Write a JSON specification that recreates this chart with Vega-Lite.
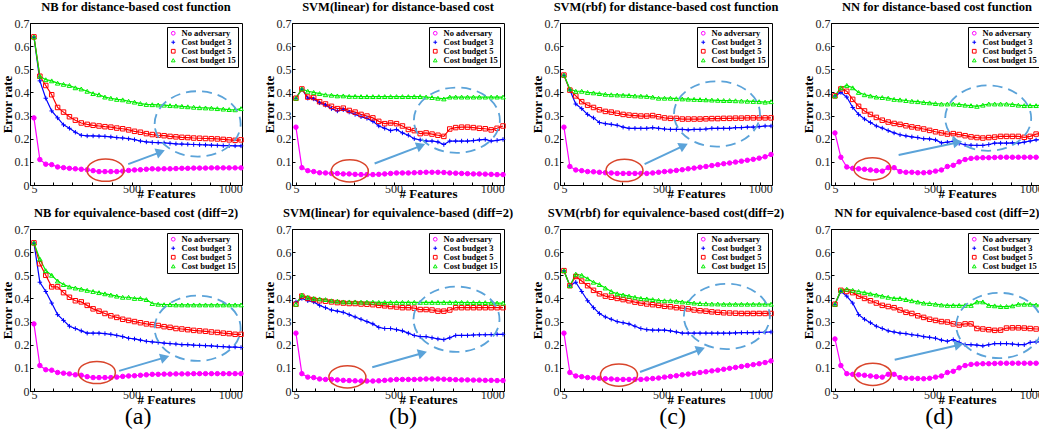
{
"$schema": "https://vega.github.io/schema/vega-lite/v6.json",
"padding": {"left": 0, "top": 0, "right": 0, "bottom": 0},
"datasets": {
"m": [
{"p":"a1","x":5,"a":0.29,"b":0.64,"c":0.64,"d":0.64},
{"p":"a1","x":35,"a":0.11,"b":0.45,"c":0.47,"d":0.47},
{"p":"a1","x":65,"a":0.09,"b":0.375,"c":0.43,"d":0.455},
{"p":"a1","x":95,"a":0.088,"b":0.32,"c":0.39,"d":0.45},
{"p":"a1","x":125,"a":0.078,"b":0.29,"c":0.335,"d":0.44},
{"p":"a1","x":155,"a":0.075,"b":0.26,"c":0.315,"d":0.435},
{"p":"a1","x":185,"a":0.072,"b":0.245,"c":0.295,"d":0.43},
{"p":"a1","x":215,"a":0.07,"b":0.228,"c":0.28,"d":0.42},
{"p":"a1","x":245,"a":0.068,"b":0.215,"c":0.268,"d":0.415},
{"p":"a1","x":275,"a":0.066,"b":0.212,"c":0.262,"d":0.405},
{"p":"a1","x":305,"a":0.062,"b":0.212,"c":0.258,"d":0.395},
{"p":"a1","x":335,"a":0.058,"b":0.211,"c":0.255,"d":0.39},
{"p":"a1","x":365,"a":0.058,"b":0.21,"c":0.252,"d":0.38},
{"p":"a1","x":395,"a":0.058,"b":0.208,"c":0.25,"d":0.375},
{"p":"a1","x":425,"a":0.058,"b":0.205,"c":0.246,"d":0.37},
{"p":"a1","x":455,"a":0.06,"b":0.203,"c":0.243,"d":0.368},
{"p":"a1","x":485,"a":0.063,"b":0.2,"c":0.238,"d":0.362},
{"p":"a1","x":515,"a":0.065,"b":0.196,"c":0.232,"d":0.358},
{"p":"a1","x":545,"a":0.066,"b":0.19,"c":0.228,"d":0.352},
{"p":"a1","x":575,"a":0.068,"b":0.186,"c":0.222,"d":0.348},
{"p":"a1","x":605,"a":0.07,"b":0.184,"c":0.218,"d":0.347},
{"p":"a1","x":635,"a":0.069,"b":0.183,"c":0.215,"d":0.346},
{"p":"a1","x":665,"a":0.07,"b":0.182,"c":0.213,"d":0.345},
{"p":"a1","x":695,"a":0.07,"b":0.18,"c":0.21,"d":0.343},
{"p":"a1","x":725,"a":0.071,"b":0.178,"c":0.208,"d":0.342},
{"p":"a1","x":755,"a":0.072,"b":0.177,"c":0.206,"d":0.34},
{"p":"a1","x":785,"a":0.072,"b":0.176,"c":0.205,"d":0.338},
{"p":"a1","x":815,"a":0.073,"b":0.175,"c":0.203,"d":0.336},
{"p":"a1","x":845,"a":0.073,"b":0.174,"c":0.202,"d":0.334},
{"p":"a1","x":875,"a":0.073,"b":0.173,"c":0.201,"d":0.333},
{"p":"a1","x":905,"a":0.074,"b":0.172,"c":0.2,"d":0.332},
{"p":"a1","x":935,"a":0.074,"b":0.171,"c":0.199,"d":0.33},
{"p":"a1","x":965,"a":0.074,"b":0.17,"c":0.197,"d":0.328},
{"p":"a1","x":995,"a":0.074,"b":0.17,"c":0.195,"d":0.326},
{"p":"a1","x":1025,"a":0.074,"b":0.169,"c":0.193,"d":0.325},
{"p":"a1","x":1055,"a":0.074,"b":0.169,"c":0.195,"d":0.33},
{"p":"a2","x":5,"a":0.29,"b":0.64,"c":0.64,"d":0.64},
{"p":"a2","x":35,"a":0.11,"b":0.47,"c":0.55,"d":0.57},
{"p":"a2","x":65,"a":0.092,"b":0.43,"c":0.5,"d":0.52},
{"p":"a2","x":95,"a":0.09,"b":0.38,"c":0.45,"d":0.5},
{"p":"a2","x":125,"a":0.08,"b":0.33,"c":0.45,"d":0.475},
{"p":"a2","x":155,"a":0.077,"b":0.305,"c":0.425,"d":0.46},
{"p":"a2","x":185,"a":0.074,"b":0.28,"c":0.405,"d":0.45},
{"p":"a2","x":215,"a":0.07,"b":0.27,"c":0.39,"d":0.445},
{"p":"a2","x":245,"a":0.068,"b":0.26,"c":0.385,"d":0.44},
{"p":"a2","x":275,"a":0.062,"b":0.25,"c":0.37,"d":0.435},
{"p":"a2","x":305,"a":0.058,"b":0.25,"c":0.355,"d":0.43},
{"p":"a2","x":335,"a":0.058,"b":0.25,"c":0.345,"d":0.425},
{"p":"a2","x":365,"a":0.058,"b":0.248,"c":0.335,"d":0.42},
{"p":"a2","x":395,"a":0.058,"b":0.245,"c":0.325,"d":0.415},
{"p":"a2","x":425,"a":0.06,"b":0.24,"c":0.318,"d":0.41},
{"p":"a2","x":455,"a":0.063,"b":0.235,"c":0.31,"d":0.405},
{"p":"a2","x":485,"a":0.065,"b":0.228,"c":0.305,"d":0.405},
{"p":"a2","x":515,"a":0.066,"b":0.225,"c":0.3,"d":0.4},
{"p":"a2","x":545,"a":0.068,"b":0.22,"c":0.295,"d":0.4},
{"p":"a2","x":575,"a":0.07,"b":0.215,"c":0.29,"d":0.395},
{"p":"a2","x":605,"a":0.072,"b":0.212,"c":0.287,"d":0.378},
{"p":"a2","x":635,"a":0.072,"b":0.21,"c":0.283,"d":0.375},
{"p":"a2","x":665,"a":0.073,"b":0.207,"c":0.278,"d":0.373},
{"p":"a2","x":695,"a":0.073,"b":0.205,"c":0.275,"d":0.373},
{"p":"a2","x":725,"a":0.074,"b":0.203,"c":0.27,"d":0.372},
{"p":"a2","x":755,"a":0.074,"b":0.2,"c":0.268,"d":0.372},
{"p":"a2","x":785,"a":0.074,"b":0.2,"c":0.265,"d":0.372},
{"p":"a2","x":815,"a":0.075,"b":0.198,"c":0.262,"d":0.372},
{"p":"a2","x":845,"a":0.075,"b":0.197,"c":0.26,"d":0.372},
{"p":"a2","x":875,"a":0.075,"b":0.196,"c":0.258,"d":0.372},
{"p":"a2","x":905,"a":0.075,"b":0.195,"c":0.255,"d":0.372},
{"p":"a2","x":935,"a":0.075,"b":0.193,"c":0.253,"d":0.372},
{"p":"a2","x":965,"a":0.075,"b":0.192,"c":0.25,"d":0.372},
{"p":"a2","x":995,"a":0.075,"b":0.19,"c":0.248,"d":0.372},
{"p":"a2","x":1025,"a":0.075,"b":0.19,"c":0.245,"d":0.372},
{"p":"a2","x":1055,"a":0.075,"b":0.188,"c":0.245,"d":0.372},
{"p":"b1","x":5,"a":0.25,"b":0.375,"c":0.375,"d":0.375},
{"p":"b1","x":35,"a":0.075,"b":0.415,"c":0.415,"d":0.415},
{"p":"b1","x":65,"a":0.062,"b":0.375,"c":0.38,"d":0.405},
{"p":"b1","x":95,"a":0.058,"b":0.372,"c":0.378,"d":0.4},
{"p":"b1","x":125,"a":0.053,"b":0.355,"c":0.36,"d":0.395},
{"p":"b1","x":155,"a":0.052,"b":0.345,"c":0.35,"d":0.39},
{"p":"b1","x":185,"a":0.05,"b":0.33,"c":0.34,"d":0.388},
{"p":"b1","x":215,"a":0.05,"b":0.32,"c":0.33,"d":0.385},
{"p":"b1","x":245,"a":0.048,"b":0.325,"c":0.332,"d":0.385},
{"p":"b1","x":275,"a":0.048,"b":0.315,"c":0.322,"d":0.383},
{"p":"b1","x":305,"a":0.046,"b":0.305,"c":0.315,"d":0.383},
{"p":"b1","x":335,"a":0.045,"b":0.295,"c":0.305,"d":0.382},
{"p":"b1","x":365,"a":0.045,"b":0.288,"c":0.298,"d":0.382},
{"p":"b1","x":395,"a":0.045,"b":0.275,"c":0.29,"d":0.382},
{"p":"b1","x":425,"a":0.046,"b":0.255,"c":0.275,"d":0.382},
{"p":"b1","x":455,"a":0.048,"b":0.245,"c":0.265,"d":0.382},
{"p":"b1","x":485,"a":0.05,"b":0.235,"c":0.268,"d":0.382},
{"p":"b1","x":515,"a":0.052,"b":0.24,"c":0.265,"d":0.382},
{"p":"b1","x":545,"a":0.052,"b":0.225,"c":0.255,"d":0.382},
{"p":"b1","x":575,"a":0.052,"b":0.215,"c":0.24,"d":0.382},
{"p":"b1","x":605,"a":0.053,"b":0.2,"c":0.235,"d":0.382},
{"p":"b1","x":635,"a":0.054,"b":0.195,"c":0.222,"d":0.382},
{"p":"b1","x":665,"a":0.055,"b":0.19,"c":0.225,"d":0.38},
{"p":"b1","x":695,"a":0.055,"b":0.19,"c":0.22,"d":0.378},
{"p":"b1","x":725,"a":0.055,"b":0.186,"c":0.215,"d":0.375},
{"p":"b1","x":755,"a":0.054,"b":0.175,"c":0.21,"d":0.372},
{"p":"b1","x":785,"a":0.052,"b":0.19,"c":0.242,"d":0.38},
{"p":"b1","x":815,"a":0.051,"b":0.19,"c":0.248,"d":0.38},
{"p":"b1","x":845,"a":0.05,"b":0.19,"c":0.25,"d":0.38},
{"p":"b1","x":875,"a":0.049,"b":0.19,"c":0.25,"d":0.38},
{"p":"b1","x":905,"a":0.048,"b":0.192,"c":0.248,"d":0.38},
{"p":"b1","x":935,"a":0.048,"b":0.195,"c":0.245,"d":0.38},
{"p":"b1","x":965,"a":0.047,"b":0.197,"c":0.243,"d":0.38},
{"p":"b1","x":995,"a":0.046,"b":0.19,"c":0.238,"d":0.38},
{"p":"b1","x":1025,"a":0.045,"b":0.193,"c":0.245,"d":0.38},
{"p":"b1","x":1055,"a":0.045,"b":0.197,"c":0.255,"d":0.38},
{"p":"b2","x":5,"a":0.25,"b":0.385,"c":0.375,"d":0.375},
{"p":"b2","x":35,"a":0.075,"b":0.4,"c":0.41,"d":0.415},
{"p":"b2","x":65,"a":0.06,"b":0.39,"c":0.4,"d":0.405},
{"p":"b2","x":95,"a":0.058,"b":0.385,"c":0.395,"d":0.4},
{"p":"b2","x":125,"a":0.052,"b":0.37,"c":0.39,"d":0.398},
{"p":"b2","x":155,"a":0.05,"b":0.36,"c":0.388,"d":0.395},
{"p":"b2","x":185,"a":0.05,"b":0.35,"c":0.385,"d":0.39},
{"p":"b2","x":215,"a":0.048,"b":0.345,"c":0.382,"d":0.388},
{"p":"b2","x":245,"a":0.046,"b":0.34,"c":0.38,"d":0.385},
{"p":"b2","x":275,"a":0.045,"b":0.33,"c":0.378,"d":0.385},
{"p":"b2","x":305,"a":0.044,"b":0.32,"c":0.378,"d":0.385},
{"p":"b2","x":335,"a":0.043,"b":0.31,"c":0.376,"d":0.384},
{"p":"b2","x":365,"a":0.043,"b":0.3,"c":0.375,"d":0.384},
{"p":"b2","x":395,"a":0.043,"b":0.29,"c":0.373,"d":0.384},
{"p":"b2","x":425,"a":0.044,"b":0.275,"c":0.37,"d":0.383},
{"p":"b2","x":455,"a":0.046,"b":0.27,"c":0.368,"d":0.383},
{"p":"b2","x":485,"a":0.048,"b":0.27,"c":0.365,"d":0.383},
{"p":"b2","x":515,"a":0.05,"b":0.265,"c":0.363,"d":0.383},
{"p":"b2","x":545,"a":0.05,"b":0.26,"c":0.36,"d":0.383},
{"p":"b2","x":575,"a":0.05,"b":0.25,"c":0.36,"d":0.383},
{"p":"b2","x":605,"a":0.05,"b":0.24,"c":0.358,"d":0.383},
{"p":"b2","x":635,"a":0.051,"b":0.235,"c":0.352,"d":0.383},
{"p":"b2","x":665,"a":0.052,"b":0.235,"c":0.352,"d":0.383},
{"p":"b2","x":695,"a":0.052,"b":0.23,"c":0.35,"d":0.383},
{"p":"b2","x":725,"a":0.052,"b":0.225,"c":0.345,"d":0.383},
{"p":"b2","x":755,"a":0.051,"b":0.222,"c":0.345,"d":0.383},
{"p":"b2","x":785,"a":0.05,"b":0.23,"c":0.35,"d":0.383},
{"p":"b2","x":815,"a":0.049,"b":0.24,"c":0.36,"d":0.383},
{"p":"b2","x":845,"a":0.048,"b":0.24,"c":0.36,"d":0.383},
{"p":"b2","x":875,"a":0.048,"b":0.24,"c":0.36,"d":0.382},
{"p":"b2","x":905,"a":0.047,"b":0.242,"c":0.36,"d":0.382},
{"p":"b2","x":935,"a":0.047,"b":0.243,"c":0.36,"d":0.382},
{"p":"b2","x":965,"a":0.046,"b":0.243,"c":0.36,"d":0.382},
{"p":"b2","x":995,"a":0.046,"b":0.244,"c":0.36,"d":0.381},
{"p":"b2","x":1025,"a":0.045,"b":0.245,"c":0.36,"d":0.38},
{"p":"b2","x":1055,"a":0.045,"b":0.245,"c":0.36,"d":0.38},
{"p":"c1","x":5,"a":0.25,"b":0.475,"c":0.475,"d":0.475},
{"p":"c1","x":35,"a":0.08,"b":0.41,"c":0.41,"d":0.415},
{"p":"c1","x":65,"a":0.065,"b":0.35,"c":0.385,"d":0.405},
{"p":"c1","x":95,"a":0.062,"b":0.33,"c":0.36,"d":0.405},
{"p":"c1","x":125,"a":0.058,"b":0.305,"c":0.345,"d":0.4},
{"p":"c1","x":155,"a":0.057,"b":0.29,"c":0.335,"d":0.398},
{"p":"c1","x":185,"a":0.055,"b":0.27,"c":0.325,"d":0.395},
{"p":"c1","x":215,"a":0.053,"b":0.265,"c":0.318,"d":0.392},
{"p":"c1","x":245,"a":0.052,"b":0.262,"c":0.315,"d":0.39},
{"p":"c1","x":275,"a":0.05,"b":0.258,"c":0.31,"d":0.389},
{"p":"c1","x":305,"a":0.05,"b":0.25,"c":0.305,"d":0.388},
{"p":"c1","x":335,"a":0.05,"b":0.245,"c":0.302,"d":0.387},
{"p":"c1","x":365,"a":0.05,"b":0.245,"c":0.3,"d":0.385},
{"p":"c1","x":395,"a":0.05,"b":0.245,"c":0.298,"d":0.384},
{"p":"c1","x":425,"a":0.05,"b":0.245,"c":0.298,"d":0.383},
{"p":"c1","x":455,"a":0.052,"b":0.248,"c":0.3,"d":0.38},
{"p":"c1","x":485,"a":0.055,"b":0.245,"c":0.295,"d":0.375},
{"p":"c1","x":515,"a":0.058,"b":0.242,"c":0.29,"d":0.375},
{"p":"c1","x":545,"a":0.06,"b":0.24,"c":0.288,"d":0.375},
{"p":"c1","x":575,"a":0.063,"b":0.24,"c":0.288,"d":0.373},
{"p":"c1","x":605,"a":0.066,"b":0.24,"c":0.285,"d":0.372},
{"p":"c1","x":635,"a":0.07,"b":0.238,"c":0.285,"d":0.371},
{"p":"c1","x":665,"a":0.073,"b":0.24,"c":0.285,"d":0.37},
{"p":"c1","x":695,"a":0.077,"b":0.24,"c":0.285,"d":0.369},
{"p":"c1","x":725,"a":0.08,"b":0.242,"c":0.286,"d":0.368},
{"p":"c1","x":755,"a":0.084,"b":0.245,"c":0.287,"d":0.367},
{"p":"c1","x":785,"a":0.088,"b":0.245,"c":0.287,"d":0.366},
{"p":"c1","x":815,"a":0.092,"b":0.245,"c":0.288,"d":0.365},
{"p":"c1","x":845,"a":0.095,"b":0.245,"c":0.288,"d":0.365},
{"p":"c1","x":875,"a":0.099,"b":0.248,"c":0.289,"d":0.364},
{"p":"c1","x":905,"a":0.103,"b":0.248,"c":0.289,"d":0.363},
{"p":"c1","x":935,"a":0.107,"b":0.25,"c":0.29,"d":0.362},
{"p":"c1","x":965,"a":0.111,"b":0.25,"c":0.29,"d":0.361},
{"p":"c1","x":995,"a":0.116,"b":0.252,"c":0.29,"d":0.36},
{"p":"c1","x":1025,"a":0.122,"b":0.255,"c":0.29,"d":0.358},
{"p":"c1","x":1055,"a":0.132,"b":0.255,"c":0.29,"d":0.36},
{"p":"c2","x":5,"a":0.25,"b":0.52,"c":0.52,"d":0.52},
{"p":"c2","x":35,"a":0.08,"b":0.455,"c":0.455,"d":0.455},
{"p":"c2","x":65,"a":0.065,"b":0.47,"c":0.495,"d":0.505},
{"p":"c2","x":95,"a":0.062,"b":0.43,"c":0.475,"d":0.5},
{"p":"c2","x":125,"a":0.058,"b":0.39,"c":0.455,"d":0.485},
{"p":"c2","x":155,"a":0.057,"b":0.36,"c":0.435,"d":0.47},
{"p":"c2","x":185,"a":0.055,"b":0.335,"c":0.42,"d":0.46},
{"p":"c2","x":215,"a":0.053,"b":0.32,"c":0.41,"d":0.445},
{"p":"c2","x":245,"a":0.052,"b":0.31,"c":0.405,"d":0.43},
{"p":"c2","x":275,"a":0.05,"b":0.3,"c":0.4,"d":0.42},
{"p":"c2","x":305,"a":0.05,"b":0.295,"c":0.395,"d":0.415},
{"p":"c2","x":335,"a":0.05,"b":0.29,"c":0.39,"d":0.41},
{"p":"c2","x":365,"a":0.05,"b":0.28,"c":0.384,"d":0.405},
{"p":"c2","x":395,"a":0.05,"b":0.27,"c":0.38,"d":0.4},
{"p":"c2","x":425,"a":0.052,"b":0.265,"c":0.376,"d":0.398},
{"p":"c2","x":455,"a":0.054,"b":0.263,"c":0.373,"d":0.395},
{"p":"c2","x":485,"a":0.056,"b":0.263,"c":0.37,"d":0.392},
{"p":"c2","x":515,"a":0.06,"b":0.263,"c":0.366,"d":0.39},
{"p":"c2","x":545,"a":0.063,"b":0.26,"c":0.364,"d":0.39},
{"p":"c2","x":575,"a":0.066,"b":0.255,"c":0.36,"d":0.388},
{"p":"c2","x":605,"a":0.07,"b":0.25,"c":0.358,"d":0.385},
{"p":"c2","x":635,"a":0.073,"b":0.25,"c":0.355,"d":0.383},
{"p":"c2","x":665,"a":0.076,"b":0.25,"c":0.35,"d":0.38},
{"p":"c2","x":695,"a":0.08,"b":0.25,"c":0.347,"d":0.378},
{"p":"c2","x":725,"a":0.083,"b":0.25,"c":0.345,"d":0.377},
{"p":"c2","x":755,"a":0.087,"b":0.25,"c":0.342,"d":0.376},
{"p":"c2","x":785,"a":0.09,"b":0.25,"c":0.34,"d":0.376},
{"p":"c2","x":815,"a":0.094,"b":0.25,"c":0.338,"d":0.375},
{"p":"c2","x":845,"a":0.098,"b":0.25,"c":0.337,"d":0.375},
{"p":"c2","x":875,"a":0.102,"b":0.251,"c":0.336,"d":0.375},
{"p":"c2","x":905,"a":0.106,"b":0.252,"c":0.335,"d":0.375},
{"p":"c2","x":935,"a":0.11,"b":0.252,"c":0.335,"d":0.375},
{"p":"c2","x":965,"a":0.114,"b":0.252,"c":0.335,"d":0.375},
{"p":"c2","x":995,"a":0.118,"b":0.253,"c":0.335,"d":0.375},
{"p":"c2","x":1025,"a":0.123,"b":0.254,"c":0.335,"d":0.375},
{"p":"c2","x":1055,"a":0.13,"b":0.255,"c":0.335,"d":0.375},
{"p":"d1","x":5,"a":0.225,"b":0.385,"c":0.385,"d":0.385},
{"p":"d1","x":35,"a":0.12,"b":0.4,"c":0.415,"d":0.42},
{"p":"d1","x":65,"a":0.078,"b":0.38,"c":0.405,"d":0.43},
{"p":"d1","x":95,"a":0.072,"b":0.335,"c":0.37,"d":0.42},
{"p":"d1","x":125,"a":0.07,"b":0.305,"c":0.34,"d":0.4},
{"p":"d1","x":155,"a":0.068,"b":0.285,"c":0.32,"d":0.39},
{"p":"d1","x":185,"a":0.065,"b":0.27,"c":0.305,"d":0.385},
{"p":"d1","x":215,"a":0.062,"b":0.255,"c":0.292,"d":0.38},
{"p":"d1","x":245,"a":0.06,"b":0.246,"c":0.28,"d":0.378},
{"p":"d1","x":275,"a":0.075,"b":0.235,"c":0.272,"d":0.375},
{"p":"d1","x":305,"a":0.075,"b":0.225,"c":0.266,"d":0.37},
{"p":"d1","x":335,"a":0.058,"b":0.217,"c":0.262,"d":0.368},
{"p":"d1","x":365,"a":0.055,"b":0.212,"c":0.256,"d":0.365},
{"p":"d1","x":395,"a":0.055,"b":0.208,"c":0.251,"d":0.362},
{"p":"d1","x":425,"a":0.053,"b":0.205,"c":0.247,"d":0.36},
{"p":"d1","x":455,"a":0.053,"b":0.2,"c":0.242,"d":0.357},
{"p":"d1","x":485,"a":0.055,"b":0.199,"c":0.236,"d":0.355},
{"p":"d1","x":515,"a":0.06,"b":0.195,"c":0.23,"d":0.352},
{"p":"d1","x":545,"a":0.065,"b":0.182,"c":0.225,"d":0.35},
{"p":"d1","x":575,"a":0.08,"b":0.185,"c":0.22,"d":0.35},
{"p":"d1","x":605,"a":0.085,"b":0.189,"c":0.222,"d":0.35},
{"p":"d1","x":635,"a":0.1,"b":0.18,"c":0.218,"d":0.348},
{"p":"d1","x":665,"a":0.11,"b":0.174,"c":0.213,"d":0.345},
{"p":"d1","x":695,"a":0.115,"b":0.172,"c":0.208,"d":0.343},
{"p":"d1","x":725,"a":0.117,"b":0.171,"c":0.205,"d":0.34},
{"p":"d1","x":755,"a":0.118,"b":0.171,"c":0.203,"d":0.345},
{"p":"d1","x":785,"a":0.118,"b":0.175,"c":0.205,"d":0.35},
{"p":"d1","x":815,"a":0.119,"b":0.181,"c":0.207,"d":0.35},
{"p":"d1","x":845,"a":0.12,"b":0.181,"c":0.21,"d":0.35},
{"p":"d1","x":875,"a":0.12,"b":0.181,"c":0.21,"d":0.35},
{"p":"d1","x":905,"a":0.12,"b":0.182,"c":0.21,"d":0.348},
{"p":"d1","x":935,"a":0.12,"b":0.181,"c":0.21,"d":0.345},
{"p":"d1","x":965,"a":0.12,"b":0.185,"c":0.206,"d":0.343},
{"p":"d1","x":995,"a":0.12,"b":0.19,"c":0.21,"d":0.343},
{"p":"d1","x":1025,"a":0.12,"b":0.195,"c":0.22,"d":0.343},
{"p":"d1","x":1055,"a":0.12,"b":0.196,"c":0.224,"d":0.345},
{"p":"d2","x":5,"a":0.225,"b":0.375,"c":0.375,"d":0.375},
{"p":"d2","x":35,"a":0.11,"b":0.43,"c":0.435,"d":0.435},
{"p":"d2","x":65,"a":0.075,"b":0.41,"c":0.43,"d":0.44},
{"p":"d2","x":95,"a":0.072,"b":0.38,"c":0.425,"d":0.435},
{"p":"d2","x":125,"a":0.07,"b":0.33,"c":0.41,"d":0.43},
{"p":"d2","x":155,"a":0.068,"b":0.31,"c":0.4,"d":0.425},
{"p":"d2","x":185,"a":0.065,"b":0.295,"c":0.39,"d":0.42},
{"p":"d2","x":215,"a":0.062,"b":0.28,"c":0.38,"d":0.415},
{"p":"d2","x":245,"a":0.06,"b":0.27,"c":0.37,"d":0.41},
{"p":"d2","x":275,"a":0.072,"b":0.26,"c":0.365,"d":0.405},
{"p":"d2","x":305,"a":0.072,"b":0.255,"c":0.36,"d":0.4},
{"p":"d2","x":335,"a":0.058,"b":0.25,"c":0.35,"d":0.4},
{"p":"d2","x":365,"a":0.055,"b":0.248,"c":0.34,"d":0.395},
{"p":"d2","x":395,"a":0.055,"b":0.243,"c":0.335,"d":0.39},
{"p":"d2","x":425,"a":0.054,"b":0.24,"c":0.325,"d":0.385},
{"p":"d2","x":455,"a":0.053,"b":0.235,"c":0.318,"d":0.38},
{"p":"d2","x":485,"a":0.055,"b":0.232,"c":0.31,"d":0.378},
{"p":"d2","x":515,"a":0.06,"b":0.228,"c":0.305,"d":0.375},
{"p":"d2","x":545,"a":0.065,"b":0.22,"c":0.3,"d":0.372},
{"p":"d2","x":575,"a":0.08,"b":0.215,"c":0.298,"d":0.37},
{"p":"d2","x":605,"a":0.085,"b":0.222,"c":0.29,"d":0.37},
{"p":"d2","x":635,"a":0.1,"b":0.21,"c":0.285,"d":0.37},
{"p":"d2","x":665,"a":0.11,"b":0.2,"c":0.29,"d":0.37},
{"p":"d2","x":695,"a":0.115,"b":0.2,"c":0.29,"d":0.37},
{"p":"d2","x":725,"a":0.117,"b":0.198,"c":0.27,"d":0.385},
{"p":"d2","x":755,"a":0.118,"b":0.195,"c":0.268,"d":0.385},
{"p":"d2","x":785,"a":0.118,"b":0.2,"c":0.265,"d":0.37},
{"p":"d2","x":815,"a":0.119,"b":0.205,"c":0.262,"d":0.368},
{"p":"d2","x":845,"a":0.12,"b":0.205,"c":0.263,"d":0.365},
{"p":"d2","x":875,"a":0.12,"b":0.205,"c":0.272,"d":0.365},
{"p":"d2","x":905,"a":0.12,"b":0.203,"c":0.273,"d":0.368},
{"p":"d2","x":935,"a":0.12,"b":0.2,"c":0.273,"d":0.375},
{"p":"d2","x":965,"a":0.12,"b":0.2,"c":0.272,"d":0.375},
{"p":"d2","x":995,"a":0.12,"b":0.21,"c":0.27,"d":0.375},
{"p":"d2","x":1025,"a":0.12,"b":0.212,"c":0.268,"d":0.372},
{"p":"d2","x":1055,"a":0.12,"b":0.212,"c":0.268,"d":0.37}
],
"n": [
{"p":"a1","k":"e","x":835,"y":0.264},{"p":"a1","k":"o","x":368,"y":0.064},{"p":"a1","k":"l","x":483,"y":0.09,"x2":640,"y2":0.14},{"p":"a1","k":"h","x":647,"y":0.143},
{"p":"a2","k":"e","x":835,"y":0.271},{"p":"a2","k":"o","x":324,"y":0.08},{"p":"a2","k":"l","x":437,"y":0.087,"x2":662,"y2":0.143},{"p":"a2","k":"h","x":669,"y":0.145},
{"p":"b1","k":"e","x":821,"y":0.28},{"p":"b1","k":"o","x":278,"y":0.061},{"p":"b1","k":"l","x":404,"y":0.093,"x2":632,"y2":0.167},{"p":"b1","k":"h","x":639,"y":0.17},
{"p":"b2","k":"e","x":819,"y":0.31},{"p":"b2","k":"o","x":266,"y":0.061},{"p":"b2","k":"l","x":392,"y":0.103,"x2":640,"y2":0.162},{"p":"b2","k":"h","x":647,"y":0.164},
{"p":"c1","k":"e","x":781,"y":0.307},{"p":"c1","k":"o","x":312,"y":0.063},{"p":"c1","k":"l","x":414,"y":0.09,"x2":605,"y2":0.167},{"p":"c1","k":"h","x":612,"y":0.17},
{"p":"c2","k":"e","x":831,"y":0.322},{"p":"c2","k":"o","x":284,"y":0.069},{"p":"c2","k":"l","x":391,"y":0.082,"x2":691,"y2":0.177},{"p":"c2","k":"h","x":698,"y":0.18},
{"p":"d1","k":"e","x":782,"y":0.289},{"p":"d1","k":"o","x":195,"y":0.07},{"p":"d1","k":"l","x":328,"y":0.13,"x2":620,"y2":0.183},{"p":"d1","k":"h","x":627,"y":0.185},
{"p":"d2","k":"e","x":838,"y":0.283},{"p":"d2","k":"o","x":197,"y":0.072},{"p":"d2","k":"l","x":308,"y":0.135,"x2":627,"y2":0.198},{"p":"d2","k":"h","x":634,"y":0.2}
]
},
"hconcat": [
{"title": {"text": "(a)", "orient": "bottom", "fontSize": 24, "fontWeight": "normal", "anchor": "middle", "frame": "bounds", "dx": 15, "offset": -2},
 "spacing": 5, "resolve": {"legend": {"color": "independent", "shape": "independent"}},
 "vconcat": [
{"title":"NB for distance-based cost function","width":212,"height":162,
 "encoding":{"x":{"field":"x","type":"quantitative","scale":{"domain":[-15,1060],"nice":false},"axis":{"values":[5,100,200,300,400,500,600,700,800,900,1000],"labelExpr":"datum.value==5||datum.value==500||datum.value==1000?''+datum.value:''","title":"# Features"}},"y":{"field":"y","type":"quantitative","scale":{"domain":[0,0.7]},"axis":{"values":[0,0.1,0.2,0.3,0.4,0.5,0.6,0.7],"format":"~g","title":"Error rate"}}},
 "layer":[
  {"data":{"name":"m"},"transform":[{"filter":"datum.p=='a1'"},{"fold":["a","b","c","d"],"as":["s","y"]}],
   "encoding":{"color":{"field":"s","type":"nominal","title":null,"scale":{"domain":["a","b","c","d"]},"legend":{"labelExpr":"datum.value=='a'?'No adversary':datum.value=='b'?'Cost budget 3':datum.value=='c'?'Cost budget 5':'Cost budget 15'"}}},
   "layer":[{"mark":{"type":"line","strokeWidth":1.2}},
    {"mark":{"type":"point","filled":false,"size":20,"strokeWidth":1,"opacity":1},"encoding":{"shape":{"field":"s","type":"nominal","title":null,"scale":{"domain":["a","b","c","d"]},"legend":{"labelExpr":"datum.value=='a'?'No adversary':datum.value=='b'?'Cost budget 3':datum.value=='c'?'Cost budget 5':'Cost budget 15'"}},"fill":{"condition":{"test":"datum.s=='a'","value":"#ff00ff"},"value":"transparent"}}}]},
  {"data":{"name":"n"},"transform":[{"filter":"datum.p=='a1'"}],
   "layer":[
    {"transform":[{"filter":"datum.k=='e'"}],"mark":{"type":"point","shape":"M-1,0A1,0.76,0,1,1,1,0A1,0.76,0,1,1,-1,0Z","size":7396,"filled":false,"stroke":"#5ba3d9","strokeWidth":1.8,"strokeDash":[10,6],"opacity":1}},
    {"transform":[{"filter":"datum.k=='o'"}],"mark":{"type":"point","shape":"M-1,0A1,0.6,0,1,1,1,0A1,0.6,0,1,1,-1,0Z","size":1369,"filled":false,"stroke":"#d9452b","strokeWidth":1.5,"opacity":1}},
    {"transform":[{"filter":"datum.k=='l'"}],"mark":{"type":"rule","stroke":"#5ba3d9","strokeWidth":2},"encoding":{"x2":{"field":"x2"},"y2":{"field":"y2"}}},
    {"transform":[{"filter":"datum.k=='h'"}],"mark":{"type":"point","shape":"triangle-right","size":110,"filled":true,"color":"#5ba3d9","angle":340,"opacity":1}}
   ]}
 ]},
{"title":"NB for equivalence-based cost (diff=2)","width":212,"height":162,
 "encoding":{"x":{"field":"x","type":"quantitative","scale":{"domain":[-15,1060],"nice":false},"axis":{"values":[5,100,200,300,400,500,600,700,800,900,1000],"labelExpr":"datum.value==5||datum.value==500||datum.value==1000?''+datum.value:''","title":"# Features"}},"y":{"field":"y","type":"quantitative","scale":{"domain":[0,0.7]},"axis":{"values":[0,0.1,0.2,0.3,0.4,0.5,0.6,0.7],"format":"~g","title":"Error rate"}}},
 "layer":[
  {"data":{"name":"m"},"transform":[{"filter":"datum.p=='a2'"},{"fold":["a","b","c","d"],"as":["s","y"]}],
   "encoding":{"color":{"field":"s","type":"nominal","title":null,"scale":{"domain":["a","b","c","d"]},"legend":{"labelExpr":"datum.value=='a'?'No adversary':datum.value=='b'?'Cost budget 3':datum.value=='c'?'Cost budget 5':'Cost budget 15'"}}},
   "layer":[{"mark":{"type":"line","strokeWidth":1.2}},
    {"mark":{"type":"point","filled":false,"size":20,"strokeWidth":1,"opacity":1},"encoding":{"shape":{"field":"s","type":"nominal","title":null,"scale":{"domain":["a","b","c","d"]},"legend":{"labelExpr":"datum.value=='a'?'No adversary':datum.value=='b'?'Cost budget 3':datum.value=='c'?'Cost budget 5':'Cost budget 15'"}},"fill":{"condition":{"test":"datum.s=='a'","value":"#ff00ff"},"value":"transparent"}}}]},
  {"data":{"name":"n"},"transform":[{"filter":"datum.p=='a2'"}],
   "layer":[
    {"transform":[{"filter":"datum.k=='e'"}],"mark":{"type":"point","shape":"M-1,0A1,0.76,0,1,1,1,0A1,0.76,0,1,1,-1,0Z","size":7396,"filled":false,"stroke":"#5ba3d9","strokeWidth":1.8,"strokeDash":[10,6],"opacity":1}},
    {"transform":[{"filter":"datum.k=='o'"}],"mark":{"type":"point","shape":"M-1,0A1,0.6,0,1,1,1,0A1,0.6,0,1,1,-1,0Z","size":1369,"filled":false,"stroke":"#d9452b","strokeWidth":1.5,"opacity":1}},
    {"transform":[{"filter":"datum.k=='l'"}],"mark":{"type":"rule","stroke":"#5ba3d9","strokeWidth":2},"encoding":{"x2":{"field":"x2"},"y2":{"field":"y2"}}},
    {"transform":[{"filter":"datum.k=='h'"}],"mark":{"type":"point","shape":"triangle-right","size":110,"filled":true,"color":"#5ba3d9","angle":343,"opacity":1}}
   ]}
 ]}
 ]},
{"title": {"text": "(b)", "orient": "bottom", "fontSize": 24, "fontWeight": "normal", "anchor": "middle", "frame": "bounds", "dx": 15, "offset": -2},
 "spacing": 5, "resolve": {"legend": {"color": "independent", "shape": "independent"}},
 "vconcat": [
{"title":"SVM(linear) for distance-based cost","width":212,"height":162,
 "encoding":{"x":{"field":"x","type":"quantitative","scale":{"domain":[-15,1060],"nice":false},"axis":{"values":[5,100,200,300,400,500,600,700,800,900,1000],"labelExpr":"datum.value==5||datum.value==500||datum.value==1000?''+datum.value:''","title":"# Features"}},"y":{"field":"y","type":"quantitative","scale":{"domain":[0,0.7]},"axis":{"values":[0,0.1,0.2,0.3,0.4,0.5,0.6,0.7],"format":"~g","title":"Error rate"}}},
 "layer":[
  {"data":{"name":"m"},"transform":[{"filter":"datum.p=='b1'"},{"fold":["a","b","c","d"],"as":["s","y"]}],
   "encoding":{"color":{"field":"s","type":"nominal","title":null,"scale":{"domain":["a","b","c","d"]},"legend":{"labelExpr":"datum.value=='a'?'No adversary':datum.value=='b'?'Cost budget 3':datum.value=='c'?'Cost budget 5':'Cost budget 15'"}}},
   "layer":[{"mark":{"type":"line","strokeWidth":1.2}},
    {"mark":{"type":"point","filled":false,"size":20,"strokeWidth":1,"opacity":1},"encoding":{"shape":{"field":"s","type":"nominal","title":null,"scale":{"domain":["a","b","c","d"]},"legend":{"labelExpr":"datum.value=='a'?'No adversary':datum.value=='b'?'Cost budget 3':datum.value=='c'?'Cost budget 5':'Cost budget 15'"}},"fill":{"condition":{"test":"datum.s=='a'","value":"#ff00ff"},"value":"transparent"}}}]},
  {"data":{"name":"n"},"transform":[{"filter":"datum.p=='b1'"}],
   "layer":[
    {"transform":[{"filter":"datum.k=='e'"}],"mark":{"type":"point","shape":"M-1,0A1,0.76,0,1,1,1,0A1,0.76,0,1,1,-1,0Z","size":7396,"filled":false,"stroke":"#5ba3d9","strokeWidth":1.8,"strokeDash":[10,6],"opacity":1}},
    {"transform":[{"filter":"datum.k=='o'"}],"mark":{"type":"point","shape":"M-1,0A1,0.6,0,1,1,1,0A1,0.6,0,1,1,-1,0Z","size":1369,"filled":false,"stroke":"#d9452b","strokeWidth":1.5,"opacity":1}},
    {"transform":[{"filter":"datum.k=='l'"}],"mark":{"type":"rule","stroke":"#5ba3d9","strokeWidth":2},"encoding":{"x2":{"field":"x2"},"y2":{"field":"y2"}}},
    {"transform":[{"filter":"datum.k=='h'"}],"mark":{"type":"point","shape":"triangle-right","size":110,"filled":true,"color":"#5ba3d9","angle":338,"opacity":1}}
   ]}
 ]},
{"title":"SVM(linear) for equivalence-based (diff=2)","width":212,"height":162,
 "encoding":{"x":{"field":"x","type":"quantitative","scale":{"domain":[-15,1060],"nice":false},"axis":{"values":[5,100,200,300,400,500,600,700,800,900,1000],"labelExpr":"datum.value==5||datum.value==500||datum.value==1000?''+datum.value:''","title":"# Features"}},"y":{"field":"y","type":"quantitative","scale":{"domain":[0,0.7]},"axis":{"values":[0,0.1,0.2,0.3,0.4,0.5,0.6,0.7],"format":"~g","title":"Error rate"}}},
 "layer":[
  {"data":{"name":"m"},"transform":[{"filter":"datum.p=='b2'"},{"fold":["a","b","c","d"],"as":["s","y"]}],
   "encoding":{"color":{"field":"s","type":"nominal","title":null,"scale":{"domain":["a","b","c","d"]},"legend":{"labelExpr":"datum.value=='a'?'No adversary':datum.value=='b'?'Cost budget 3':datum.value=='c'?'Cost budget 5':'Cost budget 15'"}}},
   "layer":[{"mark":{"type":"line","strokeWidth":1.2}},
    {"mark":{"type":"point","filled":false,"size":20,"strokeWidth":1,"opacity":1},"encoding":{"shape":{"field":"s","type":"nominal","title":null,"scale":{"domain":["a","b","c","d"]},"legend":{"labelExpr":"datum.value=='a'?'No adversary':datum.value=='b'?'Cost budget 3':datum.value=='c'?'Cost budget 5':'Cost budget 15'"}},"fill":{"condition":{"test":"datum.s=='a'","value":"#ff00ff"},"value":"transparent"}}}]},
  {"data":{"name":"n"},"transform":[{"filter":"datum.p=='b2'"}],
   "layer":[
    {"transform":[{"filter":"datum.k=='e'"}],"mark":{"type":"point","shape":"M-1,0A1,0.76,0,1,1,1,0A1,0.76,0,1,1,-1,0Z","size":7396,"filled":false,"stroke":"#5ba3d9","strokeWidth":1.8,"strokeDash":[10,6],"opacity":1}},
    {"transform":[{"filter":"datum.k=='o'"}],"mark":{"type":"point","shape":"M-1,0A1,0.6,0,1,1,1,0A1,0.6,0,1,1,-1,0Z","size":1369,"filled":false,"stroke":"#d9452b","strokeWidth":1.5,"opacity":1}},
    {"transform":[{"filter":"datum.k=='l'"}],"mark":{"type":"rule","stroke":"#5ba3d9","strokeWidth":2},"encoding":{"x2":{"field":"x2"},"y2":{"field":"y2"}}},
    {"transform":[{"filter":"datum.k=='h'"}],"mark":{"type":"point","shape":"triangle-right","size":110,"filled":true,"color":"#5ba3d9","angle":344,"opacity":1}}
   ]}
 ]}
 ]},
{"title": {"text": "(c)", "orient": "bottom", "fontSize": 24, "fontWeight": "normal", "anchor": "middle", "frame": "bounds", "dx": 15, "offset": -2},
 "spacing": 5, "resolve": {"legend": {"color": "independent", "shape": "independent"}},
 "vconcat": [
{"title":"SVM(rbf) for distance-based cost function","width":212,"height":162,
 "encoding":{"x":{"field":"x","type":"quantitative","scale":{"domain":[-15,1060],"nice":false},"axis":{"values":[5,100,200,300,400,500,600,700,800,900,1000],"labelExpr":"datum.value==5||datum.value==500||datum.value==1000?''+datum.value:''","title":"# Features"}},"y":{"field":"y","type":"quantitative","scale":{"domain":[0,0.7]},"axis":{"values":[0,0.1,0.2,0.3,0.4,0.5,0.6,0.7],"format":"~g","title":"Error rate"}}},
 "layer":[
  {"data":{"name":"m"},"transform":[{"filter":"datum.p=='c1'"},{"fold":["a","b","c","d"],"as":["s","y"]}],
   "encoding":{"color":{"field":"s","type":"nominal","title":null,"scale":{"domain":["a","b","c","d"]},"legend":{"labelExpr":"datum.value=='a'?'No adversary':datum.value=='b'?'Cost budget 3':datum.value=='c'?'Cost budget 5':'Cost budget 15'"}}},
   "layer":[{"mark":{"type":"line","strokeWidth":1.2}},
    {"mark":{"type":"point","filled":false,"size":20,"strokeWidth":1,"opacity":1},"encoding":{"shape":{"field":"s","type":"nominal","title":null,"scale":{"domain":["a","b","c","d"]},"legend":{"labelExpr":"datum.value=='a'?'No adversary':datum.value=='b'?'Cost budget 3':datum.value=='c'?'Cost budget 5':'Cost budget 15'"}},"fill":{"condition":{"test":"datum.s=='a'","value":"#ff00ff"},"value":"transparent"}}}]},
  {"data":{"name":"n"},"transform":[{"filter":"datum.p=='c1'"}],
   "layer":[
    {"transform":[{"filter":"datum.k=='e'"}],"mark":{"type":"point","shape":"M-1,0A1,0.76,0,1,1,1,0A1,0.76,0,1,1,-1,0Z","size":7396,"filled":false,"stroke":"#5ba3d9","strokeWidth":1.8,"strokeDash":[10,6],"opacity":1}},
    {"transform":[{"filter":"datum.k=='o'"}],"mark":{"type":"point","shape":"M-1,0A1,0.6,0,1,1,1,0A1,0.6,0,1,1,-1,0Z","size":1369,"filled":false,"stroke":"#d9452b","strokeWidth":1.5,"opacity":1}},
    {"transform":[{"filter":"datum.k=='l'"}],"mark":{"type":"rule","stroke":"#5ba3d9","strokeWidth":2},"encoding":{"x2":{"field":"x2"},"y2":{"field":"y2"}}},
    {"transform":[{"filter":"datum.k=='h'"}],"mark":{"type":"point","shape":"triangle-right","size":110,"filled":true,"color":"#5ba3d9","angle":334,"opacity":1}}
   ]}
 ]},
{"title":"SVM(rbf) for equivalence-based cost(diff=2)","width":212,"height":162,
 "encoding":{"x":{"field":"x","type":"quantitative","scale":{"domain":[-15,1060],"nice":false},"axis":{"values":[5,100,200,300,400,500,600,700,800,900,1000],"labelExpr":"datum.value==5||datum.value==500||datum.value==1000?''+datum.value:''","title":"# Features"}},"y":{"field":"y","type":"quantitative","scale":{"domain":[0,0.7]},"axis":{"values":[0,0.1,0.2,0.3,0.4,0.5,0.6,0.7],"format":"~g","title":"Error rate"}}},
 "layer":[
  {"data":{"name":"m"},"transform":[{"filter":"datum.p=='c2'"},{"fold":["a","b","c","d"],"as":["s","y"]}],
   "encoding":{"color":{"field":"s","type":"nominal","title":null,"scale":{"domain":["a","b","c","d"]},"legend":{"labelExpr":"datum.value=='a'?'No adversary':datum.value=='b'?'Cost budget 3':datum.value=='c'?'Cost budget 5':'Cost budget 15'"}}},
   "layer":[{"mark":{"type":"line","strokeWidth":1.2}},
    {"mark":{"type":"point","filled":false,"size":20,"strokeWidth":1,"opacity":1},"encoding":{"shape":{"field":"s","type":"nominal","title":null,"scale":{"domain":["a","b","c","d"]},"legend":{"labelExpr":"datum.value=='a'?'No adversary':datum.value=='b'?'Cost budget 3':datum.value=='c'?'Cost budget 5':'Cost budget 15'"}},"fill":{"condition":{"test":"datum.s=='a'","value":"#ff00ff"},"value":"transparent"}}}]},
  {"data":{"name":"n"},"transform":[{"filter":"datum.p=='c2'"}],
   "layer":[
    {"transform":[{"filter":"datum.k=='e'"}],"mark":{"type":"point","shape":"M-1,0A1,0.76,0,1,1,1,0A1,0.76,0,1,1,-1,0Z","size":7396,"filled":false,"stroke":"#5ba3d9","strokeWidth":1.8,"strokeDash":[10,6],"opacity":1}},
    {"transform":[{"filter":"datum.k=='o'"}],"mark":{"type":"point","shape":"M-1,0A1,0.6,0,1,1,1,0A1,0.6,0,1,1,-1,0Z","size":1369,"filled":false,"stroke":"#d9452b","strokeWidth":1.5,"opacity":1}},
    {"transform":[{"filter":"datum.k=='l'"}],"mark":{"type":"rule","stroke":"#5ba3d9","strokeWidth":2},"encoding":{"x2":{"field":"x2"},"y2":{"field":"y2"}}},
    {"transform":[{"filter":"datum.k=='h'"}],"mark":{"type":"point","shape":"triangle-right","size":110,"filled":true,"color":"#5ba3d9","angle":339,"opacity":1}}
   ]}
 ]}
 ]},
{"title": {"text": "(d)", "orient": "bottom", "fontSize": 24, "fontWeight": "normal", "anchor": "middle", "frame": "bounds", "dx": 15, "offset": -2},
 "spacing": 5, "resolve": {"legend": {"color": "independent", "shape": "independent"}},
 "vconcat": [
{"title":"NN for distance-based cost function","width":212,"height":162,
 "encoding":{"x":{"field":"x","type":"quantitative","scale":{"domain":[-15,1060],"nice":false},"axis":{"values":[5,100,200,300,400,500,600,700,800,900,1000],"labelExpr":"datum.value==5||datum.value==500||datum.value==1000?''+datum.value:''","title":"# Features"}},"y":{"field":"y","type":"quantitative","scale":{"domain":[0,0.7]},"axis":{"values":[0,0.1,0.2,0.3,0.4,0.5,0.6,0.7],"format":"~g","title":"Error rate"}}},
 "layer":[
  {"data":{"name":"m"},"transform":[{"filter":"datum.p=='d1'"},{"fold":["a","b","c","d"],"as":["s","y"]}],
   "encoding":{"color":{"field":"s","type":"nominal","title":null,"scale":{"domain":["a","b","c","d"]},"legend":{"labelExpr":"datum.value=='a'?'No adversary':datum.value=='b'?'Cost budget 3':datum.value=='c'?'Cost budget 5':'Cost budget 15'"}}},
   "layer":[{"mark":{"type":"line","strokeWidth":1.2}},
    {"mark":{"type":"point","filled":false,"size":20,"strokeWidth":1,"opacity":1},"encoding":{"shape":{"field":"s","type":"nominal","title":null,"scale":{"domain":["a","b","c","d"]},"legend":{"labelExpr":"datum.value=='a'?'No adversary':datum.value=='b'?'Cost budget 3':datum.value=='c'?'Cost budget 5':'Cost budget 15'"}},"fill":{"condition":{"test":"datum.s=='a'","value":"#ff00ff"},"value":"transparent"}}}]},
  {"data":{"name":"n"},"transform":[{"filter":"datum.p=='d1'"}],
   "layer":[
    {"transform":[{"filter":"datum.k=='e'"}],"mark":{"type":"point","shape":"M-1,0A1,0.76,0,1,1,1,0A1,0.76,0,1,1,-1,0Z","size":7396,"filled":false,"stroke":"#5ba3d9","strokeWidth":1.8,"strokeDash":[10,6],"opacity":1}},
    {"transform":[{"filter":"datum.k=='o'"}],"mark":{"type":"point","shape":"M-1,0A1,0.6,0,1,1,1,0A1,0.6,0,1,1,-1,0Z","size":1369,"filled":false,"stroke":"#d9452b","strokeWidth":1.5,"opacity":1}},
    {"transform":[{"filter":"datum.k=='l'"}],"mark":{"type":"rule","stroke":"#5ba3d9","strokeWidth":2},"encoding":{"x2":{"field":"x2"},"y2":{"field":"y2"}}},
    {"transform":[{"filter":"datum.k=='h'"}],"mark":{"type":"point","shape":"triangle-right","size":110,"filled":true,"color":"#5ba3d9","angle":349,"opacity":1}}
   ]}
 ]},
{"title":"NN for equivalence-based cost (diff=2)","width":212,"height":162,
 "encoding":{"x":{"field":"x","type":"quantitative","scale":{"domain":[-15,1060],"nice":false},"axis":{"values":[5,100,200,300,400,500,600,700,800,900,1000],"labelExpr":"datum.value==5||datum.value==500||datum.value==1000?''+datum.value:''","title":"# Features"}},"y":{"field":"y","type":"quantitative","scale":{"domain":[0,0.7]},"axis":{"values":[0,0.1,0.2,0.3,0.4,0.5,0.6,0.7],"format":"~g","title":"Error rate"}}},
 "layer":[
  {"data":{"name":"m"},"transform":[{"filter":"datum.p=='d2'"},{"fold":["a","b","c","d"],"as":["s","y"]}],
   "encoding":{"color":{"field":"s","type":"nominal","title":null,"scale":{"domain":["a","b","c","d"]},"legend":{"labelExpr":"datum.value=='a'?'No adversary':datum.value=='b'?'Cost budget 3':datum.value=='c'?'Cost budget 5':'Cost budget 15'"}}},
   "layer":[{"mark":{"type":"line","strokeWidth":1.2}},
    {"mark":{"type":"point","filled":false,"size":20,"strokeWidth":1,"opacity":1},"encoding":{"shape":{"field":"s","type":"nominal","title":null,"scale":{"domain":["a","b","c","d"]},"legend":{"labelExpr":"datum.value=='a'?'No adversary':datum.value=='b'?'Cost budget 3':datum.value=='c'?'Cost budget 5':'Cost budget 15'"}},"fill":{"condition":{"test":"datum.s=='a'","value":"#ff00ff"},"value":"transparent"}}}]},
  {"data":{"name":"n"},"transform":[{"filter":"datum.p=='d2'"}],
   "layer":[
    {"transform":[{"filter":"datum.k=='e'"}],"mark":{"type":"point","shape":"M-1,0A1,0.76,0,1,1,1,0A1,0.76,0,1,1,-1,0Z","size":7396,"filled":false,"stroke":"#5ba3d9","strokeWidth":1.8,"strokeDash":[10,6],"opacity":1}},
    {"transform":[{"filter":"datum.k=='o'"}],"mark":{"type":"point","shape":"M-1,0A1,0.6,0,1,1,1,0A1,0.6,0,1,1,-1,0Z","size":1369,"filled":false,"stroke":"#d9452b","strokeWidth":1.5,"opacity":1}},
    {"transform":[{"filter":"datum.k=='l'"}],"mark":{"type":"rule","stroke":"#5ba3d9","strokeWidth":2},"encoding":{"x2":{"field":"x2"},"y2":{"field":"y2"}}},
    {"transform":[{"filter":"datum.k=='h'"}],"mark":{"type":"point","shape":"triangle-right","size":110,"filled":true,"color":"#5ba3d9","angle":347,"opacity":1}}
   ]}
 ]}
 ]}
],
"spacing": 16,
"resolve": {"legend": {"color": "independent", "shape": "independent"}},
"config": {
 "font": "Liberation Serif",
 "background": "white",
 "view": {"stroke": "black", "strokeWidth": 1},
 "title": {"font": "Liberation Serif", "fontSize": 12.5, "fontWeight": "bold", "color": "black", "offset": 0, "frame": "group"},
 "axis": {"grid": false, "domainColor": "black", "tickColor": "black", "tickSize": -3, "labelFont": "Liberation Serif", "labelFontSize": 12, "labelColor": "#222", "titleFont": "Liberation Serif", "titleFontWeight": "bold", "titleFontSize": 13, "titleColor": "black"},
 "axisX": {"labelPadding": 1, "titlePadding": -7, "labelAngle": 0, "titleX": 136},
 "axisY": {"labelPadding": 4, "titlePadding": 0},
 "legend": {"orient": "top-right", "offset": 4, "padding": 2, "fillColor": "white", "strokeColor": "black", "strokeWidth": 1, "labelFont": "Liberation Serif", "labelFontWeight": "bold", "labelFontSize": 8.5, "labelColor": "black", "rowPadding": -2, "symbolSize": 14, "symbolStrokeWidth": 1, "labelOffset": 4, "labelLimit": 200},
 "range": {"category": ["#ff00ff", "#0000ff", "#ff0000", "#00ee00"], "symbol": ["circle", "M-1,0L1,0M0,-1L0,1", "square", "triangle-up"]}
}
}
